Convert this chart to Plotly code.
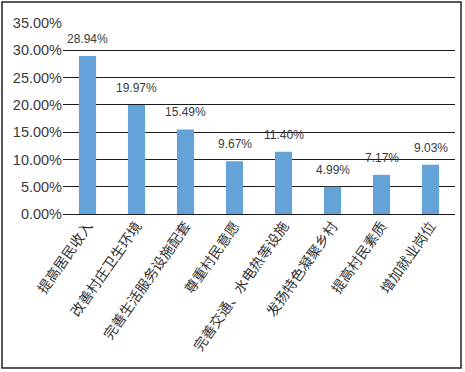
import plotly.graph_objects as go

categories = ["提高居民收入", "改善村庄卫生环境", "完善生活服务设施配套", "尊重村民意愿",
              "完善交通、水电热等设施", "发扬特色凝聚乡村", "提高村民素质", "增加就业岗位"]
values = [28.94, 19.97, 15.49, 9.67, 11.40, 4.99, 7.17, 9.03]
y_ticks = [0, 5, 10, 15, 20, 25, 30, 35]

L, R, T, B = 63, 10, 23, 158
W, H = 465, 372
pw, ph = W - L - R, H - T - B

fig = go.Figure()
fig.add_trace(go.Bar(x=categories, y=values, marker_color="#64a2d8", width=0.35,
                     marker_line_width=0, hoverinfo="skip"))

for c, v in zip(categories, values):
    fig.add_annotation(x=c, y=v, text=f"{v:.2f}%", showarrow=False, yanchor="bottom",
                       yshift=8, font=dict(family="Liberation Sans, Arial", size=12, color="#3a3a3a"))

# outer frame
fig.add_shape(type="rect", xref="paper", yref="paper",
              x0=(2 - L) / pw, x1=(461 - L) / pw, y0=(T + ph - 368) / ph, y1=(T + ph - 2) / ph,
              line=dict(color="#222222", width=1.5))

fig.update_layout(
    width=W, height=H, margin=dict(l=L, r=R, t=T, b=B, autoexpand=False),
    paper_bgcolor="white", plot_bgcolor="white", showlegend=False,
    font=dict(family="Noto Sans CJK SC", color="#333333"),
)
fig.update_xaxes(tickangle=-55, tickfont=dict(family="Noto Sans CJK SC", size=14, color="#333333"),
                 showline=False, showgrid=False, ticks="", automargin=False)
fig.update_yaxes(range=[0, 35], tickvals=y_ticks, ticktext=[f"{t:.2f}%" for t in y_ticks],
                 tickfont=dict(family="Liberation Sans, Arial", size=14.5, color="#3a3a3a"),
                 showgrid=True, gridcolor="#1a1a1a", gridwidth=1,
                 zeroline=True, zerolinecolor="#1a1a1a", zerolinewidth=1.2,
                 showline=False, ticks="", automargin=False)

fig.write_html("out.html", config={"displayModeBar": False},
               post_script="document.body.style.margin='0';document.body.style.overflow='hidden';")
